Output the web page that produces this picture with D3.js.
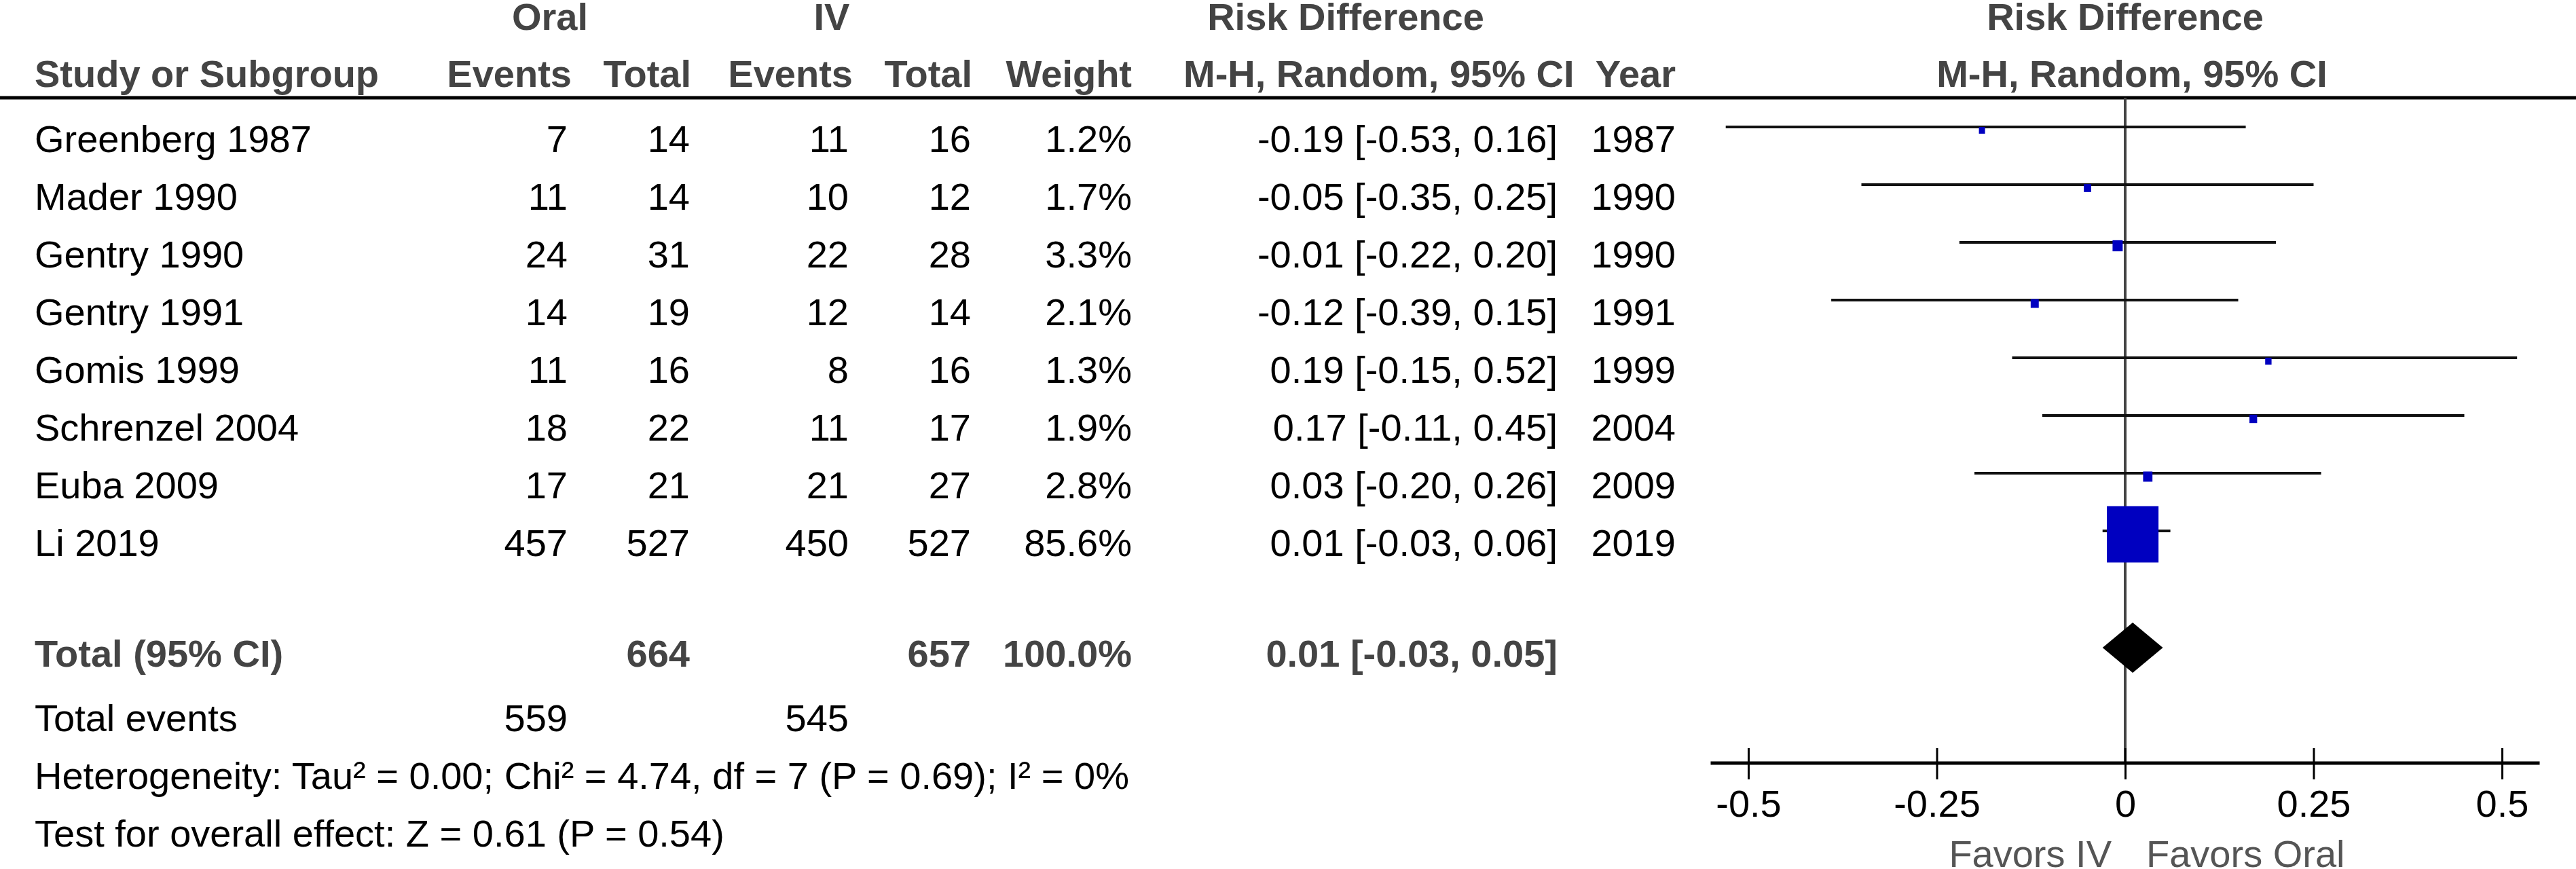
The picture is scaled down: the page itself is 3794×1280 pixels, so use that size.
<!DOCTYPE html>
<html><head><meta charset="utf-8">
<script src="https://cdn.jsdelivr.net/npm/d3@7"></script>
<style>
html,body{margin:0;padding:0;background:#fff;}
svg{display:block;}
text{font-family:"Liberation Sans",Arial,sans-serif;font-size:56px;}
</style></head>
<body>
<script>
const studies = ["Greenberg 1987","Mader 1990","Gentry 1990","Gentry 1991","Gomis 1999","Schrenzel 2004","Euba 2009","Li 2019"];
const oralEvents = [7,11,24,14,11,18,17,457];
const oralTotal = [14,14,31,19,16,22,21,527];
const ivEvents = [11,10,22,12,8,11,21,450];
const ivTotal = [16,12,28,14,16,17,27,527];
const weights = [1.2,1.7,3.3,2.1,1.3,1.9,2.8,85.6];
const rd = [-0.19,-0.05,-0.01,-0.12,0.19,0.17,0.03,0.01];
const ciLow = [-0.53,-0.35,-0.22,-0.39,-0.15,-0.11,-0.20,-0.03];
const ciHigh = [0.16,0.25,0.20,0.15,0.52,0.45,0.26,0.06];
const years = [1987,1990,1990,1991,1999,2004,2009,2019];
const totalOral = 664, totalIV = 657, totalWeight = "100.0%";
const pooled = {est:0.01, lo:-0.03, hi:0.05};
const eventsOral = 559, eventsIV = 545;
const heterogeneity = "Heterogeneity: Tau² = 0.00; Chi² = 4.74, df = 7 (P = 0.69); I² = 0%";
const overall = "Test for overall effect: Z = 0.61 (P = 0.54)";
const tickValues = [-0.5,-0.25,0,0.25,0.5];
const tickLabels = ["-0.5","-0.25","0","0.25","0.5"];

const W=3794,H=1280;
const svg=d3.select("body").append("svg").attr("width",W).attr("height",H);
const hdr="#444";
const fmt2 = v => v.toFixed(2);
const ciText = (e,l,h)=> `${fmt2(e)} [${fmt2(l)}, ${fmt2(h)}]`;

const x=d3.scaleLinear().domain([-0.5,0.5]).range([2575,3685]);
const rowLine=d3.scaleLinear().domain([0,1]).range([187,272]);

const col={name:51,oe:836,ot:1016,ie:1250,it:1430,wt:1667,ci:2294,yr:2468};

function t(xp,yp,str,anchor,weight,fill){
  return svg.append("text").attr("x",xp).attr("y",yp).attr("text-anchor",anchor)
    .attr("font-weight",weight||"normal").attr("fill",fill||"#000").text(str);
}
t(810,44,"Oral","middle","bold",hdr);
t(1225,44,"IV","middle","bold",hdr);
t(1982,44,"Risk Difference","middle","bold",hdr);
t(x(0),44,"Risk Difference","middle","bold",hdr);
t(col.name,128,"Study or Subgroup","start","bold",hdr);
t(842,128,"Events","end","bold",hdr);
t(1018,128,"Total","end","bold",hdr);
t(1256,128,"Events","end","bold",hdr);
t(1432,128,"Total","end","bold",hdr);
t(col.wt,128,"Weight","end","bold",hdr);
t(1743,128,"M-H, Random, 95% CI","start","bold",hdr);
t(col.yr,128,"Year","end","bold",hdr);
t(x(0)+10,128,"M-H, Random, 95% CI","middle","bold",hdr);

svg.append("line").attr("x1",0).attr("x2",W).attr("y1",144).attr("y2",144)
  .attr("stroke","#000").attr("stroke-width",5);

svg.append("line").attr("x1",x(0)).attr("x2",x(0)).attr("y1",144).attr("y2",1124)
  .attr("stroke","#444").attr("stroke-width",4);

studies.forEach((s,i)=>{
  const yl=rowLine(i), yb=yl+37;
  t(col.name,yb,s,"start");
  t(col.oe,yb,oralEvents[i],"end");
  t(col.ot,yb,oralTotal[i],"end");
  t(col.ie,yb,ivEvents[i],"end");
  t(col.it,yb,ivTotal[i],"end");
  t(col.wt,yb,weights[i].toFixed(1)+"%","end");
  t(col.ci,yb,ciText(rd[i],ciLow[i],ciHigh[i]),"end");
  t(col.yr,yb,years[i],"end");
  svg.append("line").attr("x1",x(ciLow[i])).attr("x2",x(ciHigh[i])).attr("y1",yl).attr("y2",yl)
    .attr("stroke","#111").attr("stroke-width",4);
  const k=Math.sqrt(weights[i]/85.6);
  const sw=76*k, sh=83*k;
  svg.append("rect").attr("x",x(rd[i])-sw/2).attr("y",yl+5-sh/2).attr("width",sw).attr("height",sh)
    .attr("fill","#0000C0");
});

const ty=954;
t(col.name,982,"Total (95% CI)","start","bold",hdr);
t(col.ot,982,totalOral,"end","bold",hdr);
t(col.it,982,totalIV,"end","bold",hdr);
t(col.wt,982,totalWeight,"end","bold",hdr);
t(col.ci,982,ciText(pooled.est,pooled.lo,pooled.hi),"end","bold",hdr);
svg.append("path").attr("d",`M${x(pooled.lo)},${ty}L${x(pooled.est)},${ty-37}L${x(pooled.hi)},${ty}L${x(pooled.est)},${ty+37}Z`)
  .attr("fill","#000");

t(col.name,1077,"Total events","start");
t(col.oe,1077,eventsOral,"end");
t(col.ie,1077,eventsIV,"end");
t(col.name,1162,heterogeneity,"start");
t(col.name,1247,overall,"start");

svg.append("line").attr("x1",x(-0.55)).attr("x2",x(0.55)).attr("y1",1124).attr("y2",1124)
  .attr("stroke","#000").attr("stroke-width",5);
const axis=d3.axisBottom(x).tickValues(tickValues).tickSize(24).tickPadding(20)
  .tickFormat((d,i)=>tickLabels[i]);
const ag=svg.append("g").attr("transform","translate(0,1124)").call(axis);
ag.select(".domain").remove();
ag.selectAll(".tick line").attr("y1",-22).attr("y2",24).attr("stroke","#000").attr("stroke-width",3);
ag.selectAll(".tick text").attr("font-size",56).attr("fill","#000")
  .attr("font-family","Liberation Sans, Arial, sans-serif").attr("dy",null).attr("y",79);

t(x(0)-20,1277,"Favors IV","end","normal","#555");
t(x(0)+31,1277,"Favors Oral","start","normal","#555");
</script>
</body></html>
